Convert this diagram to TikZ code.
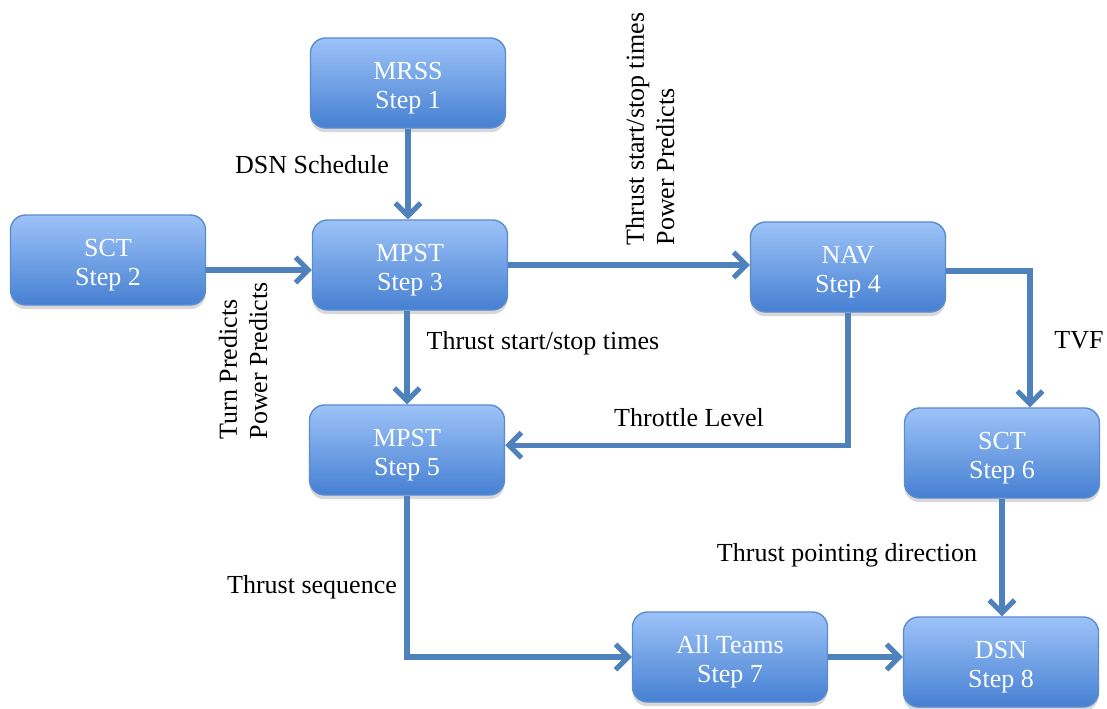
\documentclass[tikz,border=0pt]{standalone}
\usepackage{fontspec}
\setmainfont{Liberation Serif}
\usetikzlibrary{arrows.meta,shadows}
\definecolor{linkblue}{HTML}{4F81BD}
\definecolor{boxtop}{HTML}{9DC3F8}
\definecolor{boxbot}{HTML}{4680D2}
\definecolor{boxedge}{HTML}{5A8CD0}
\newcommand{\topstrut}{\rule{0pt}{20pt}}
\begin{document}
\begin{tikzpicture}[x=0.025cm, y=-0.025cm, >={Straight Barb[length=9pt,width=18pt]},
  stepbox/.style={draw=boxedge, line width=1pt, rounded corners=0.38cm, top color=boxtop, bottom color=boxbot,
    minimum width=4.875cm, minimum height=2.25cm, align=center, text=white,
    font=\fontsize{18.5}{20.6}\selectfont,
    drop shadow={shadow xshift=0pt, shadow yshift=-3pt, opacity=0.3}},
  link/.style={draw=linkblue, line width=3.6pt, ->},
  lbl/.style={font=\fontsize{18.5}{21.5}\selectfont, inner sep=0pt}]
\path[use as bounding box, fill=white] (0,0) rectangle (1107,709);

\node[stepbox] (mrss) at (408,83) {\topstrut MRSS\\Step 1};
\node[stepbox] (sct2) at (108,260) {\topstrut SCT\\Step 2};
\node[stepbox] (mpst3) at (410,265) {\topstrut MPST\\Step 3};
\node[stepbox] (nav) at (848,267) {\topstrut NAV\\Step 4};
\node[stepbox] (mpst5) at (407,450) {\topstrut MPST\\Step 5};
\node[stepbox] (sct6) at (1002,453) {\topstrut SCT\\Step 6};
\node[stepbox] (teams) at (730,657) {\topstrut All Teams\\Step 7};
\node[stepbox] (dsn) at (1001,662) {\topstrut DSN\\Step 8};

\draw[link] (mrss.south) -- (mrss.south |- mpst3.north);
\draw[link] ([yshift=-0.25cm]sct2.east) -- ([yshift=-0.25cm]sct2.east -| mpst3.west);
\draw[link] (mpst3.east) -- (mpst3.east -| nav.west);
\draw[link] ([yshift=-0.1cm]nav.east) -| ([xshift=0.7cm]sct6.north);
\draw[link] (nav.south) |- ([yshift=0.12cm]mpst5.east);
\draw[link] (mpst5.north |- mpst3.south) -- (mpst5.north);
\draw[link] (mpst5.south) |- (teams.west);
\draw[link] (teams.east) -- (teams.east -| dsn.west);
\draw[link] (sct6.south) -- (sct6.south |- dsn.north);

\node[lbl] (schedlbl) at (312,165) {DSN Schedule};
\node[lbl, rotate=90, align=left] (predlbl) at (243,361) {Turn Predicts\\Power Predicts};
\node[lbl, rotate=90, align=left] (thrustlbl) at (650,129) {Thrust start/stop times\\Power Predicts};
\node[lbl] (timeslbl) at (543,343) {Thrust start/stop times};
\node[lbl] (throttlelbl) at (689,418) {Throttle Level};
\node[lbl] (tvflbl) at (1079,340) {TVF};
\node[lbl] (pointlbl) at (847,555) {Thrust pointing direction};
\node[lbl] (seqlbl) at (312,587) {Thrust sequence};
\end{tikzpicture}
\end{document}
